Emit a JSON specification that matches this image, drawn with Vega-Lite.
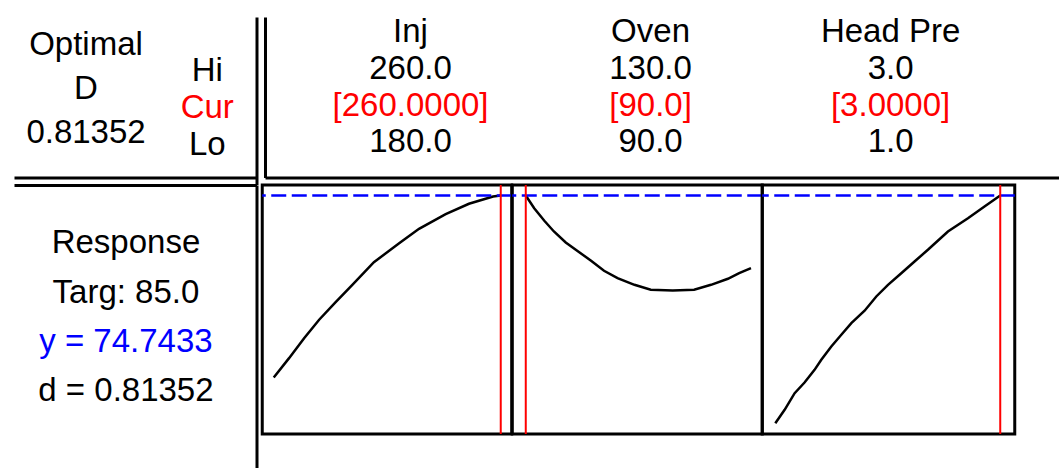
{
  "$schema": "https://vega.github.io/schema/vega-lite/v6.json",
  "padding": {"left": 14, "top": 16, "right": 0, "bottom": 0},
  "autosize": {"type": "pad"},
  "background": "white",
  "config": {
    "view": {"stroke": null},
    "text": {"font": "Liberation Sans", "fontSize": 33, "baseline": "alphabetic", "align": "center"},
    "concat": {"spacing": 0}
  },
  "datasets": {
    "optimum": [
      {"col": "stat", "row": "name", "label": "Optimal\nD\n0.81352"}
    ],
    "levels": [
      {"col": "label", "row": "Hi", "label": "Hi"},
      {"col": "label", "row": "Cur", "label": "Cur"},
      {"col": "label", "row": "Lo", "label": "Lo"}
    ],
    "factors": [
      {"factor": "Inj", "row": "name", "label": "Inj"},
      {"factor": "Inj", "row": "Hi", "label": "260.0"},
      {"factor": "Inj", "row": "Cur", "label": "[260.0000]"},
      {"factor": "Inj", "row": "Lo", "label": "180.0"},
      {"factor": "Oven", "row": "name", "label": "Oven"},
      {"factor": "Oven", "row": "Hi", "label": "130.0"},
      {"factor": "Oven", "row": "Cur", "label": "[90.0]"},
      {"factor": "Oven", "row": "Lo", "label": "90.0"},
      {"factor": "Head Pre", "row": "name", "label": "Head Pre"},
      {"factor": "Head Pre", "row": "Hi", "label": "3.0"},
      {"factor": "Head Pre", "row": "Cur", "label": "[3.0000]"},
      {"factor": "Head Pre", "row": "Lo", "label": "1.0"}
    ],
    "readout": [
      {"col": "resp", "row": "response", "kind": "plain", "label": "Response"},
      {"col": "resp", "row": "target", "kind": "plain", "label": "Targ: 85.0"},
      {"col": "resp", "row": "fit", "kind": "fit", "label": "y = 74.7433"},
      {"col": "resp", "row": "desirability", "kind": "plain", "label": "d = 0.81352"}
    ],
    "profiles": [
      {"factor": "Inj", "setting": 180.0, "response": 50.90},
      {"factor": "Inj", "setting": 185.4, "response": 53.43},
      {"factor": "Inj", "setting": 190.7, "response": 56.05},
      {"factor": "Inj", "setting": 196.0, "response": 58.46},
      {"factor": "Inj", "setting": 201.9, "response": 60.80},
      {"factor": "Inj", "setting": 207.7, "response": 63.04},
      {"factor": "Inj", "setting": 215.3, "response": 66.00},
      {"factor": "Inj", "setting": 224.2, "response": 68.49},
      {"factor": "Inj", "setting": 231.2, "response": 70.38},
      {"factor": "Inj", "setting": 240.6, "response": 72.29},
      {"factor": "Inj", "setting": 248.8, "response": 73.66},
      {"factor": "Inj", "setting": 257.3, "response": 74.61},
      {"factor": "Inj", "setting": 260.0, "response": 74.74},
      {"factor": "Oven", "setting": 90.0, "response": 74.74},
      {"factor": "Oven", "setting": 91.5, "response": 73.08},
      {"factor": "Oven", "setting": 93.3, "response": 71.43},
      {"factor": "Oven", "setting": 95.0, "response": 70.03},
      {"factor": "Oven", "setting": 97.1, "response": 68.59},
      {"factor": "Oven", "setting": 99.5, "response": 67.31},
      {"factor": "Oven", "setting": 101.6, "response": 66.19},
      {"factor": "Oven", "setting": 103.9, "response": 64.88},
      {"factor": "Oven", "setting": 106.3, "response": 63.91},
      {"factor": "Oven", "setting": 109.3, "response": 63.04},
      {"factor": "Oven", "setting": 112.2, "response": 62.39},
      {"factor": "Oven", "setting": 116.1, "response": 62.30},
      {"factor": "Oven", "setting": 119.9, "response": 62.39},
      {"factor": "Oven", "setting": 122.9, "response": 63.04},
      {"factor": "Oven", "setting": 125.9, "response": 63.83},
      {"factor": "Oven", "setting": 127.9, "response": 64.56},
      {"factor": "Oven", "setting": 130.0, "response": 65.22},
      {"factor": "Head Pre", "setting": 1.000, "response": 44.91},
      {"factor": "Head Pre", "setting": 1.083, "response": 46.66},
      {"factor": "Head Pre", "setting": 1.172, "response": 48.84},
      {"factor": "Head Pre", "setting": 1.260, "response": 50.24},
      {"factor": "Head Pre", "setting": 1.349, "response": 51.90},
      {"factor": "Head Pre", "setting": 1.409, "response": 53.22},
      {"factor": "Head Pre", "setting": 1.498, "response": 54.96},
      {"factor": "Head Pre", "setting": 1.587, "response": 56.49},
      {"factor": "Head Pre", "setting": 1.676, "response": 58.01},
      {"factor": "Head Pre", "setting": 1.794, "response": 59.64},
      {"factor": "Head Pre", "setting": 1.898, "response": 61.51},
      {"factor": "Head Pre", "setting": 2.002, "response": 63.04},
      {"factor": "Head Pre", "setting": 2.120, "response": 64.56},
      {"factor": "Head Pre", "setting": 2.238, "response": 66.10},
      {"factor": "Head Pre", "setting": 2.357, "response": 67.63},
      {"factor": "Head Pre", "setting": 2.535, "response": 70.03},
      {"factor": "Head Pre", "setting": 2.713, "response": 71.77},
      {"factor": "Head Pre", "setting": 2.860, "response": 73.30},
      {"factor": "Head Pre", "setting": 3.000, "response": 74.74}
    ],
    "settings": [
      {"factor": "Inj", "setting": 260},
      {"factor": "Oven", "setting": 90},
      {"factor": "Head Pre", "setting": 3}
    ],
    "prediction": [
      {"response": 74.7433}
    ]
  },
  "bounds": "full",
  "spacing": -4,
  "resolve": {"scale": {"x": "independent", "y": "independent", "color": "independent"}},
  "vconcat": [
    {
      "bounds": "flush",
      "spacing": 8,
      "resolve": {"scale": {"x": "independent", "y": "independent", "color": "independent"}},
      "hconcat": [
        {
          "width": 242.5,
          "height": 167.5,
          "layer": [
            {
              "data": {"name": "optimum"},
              "mark": {"type": "text", "lineBreak": "\n", "lineHeight": 43.7, "dx": 11.4, "dy": 9.5, "color": "black"},
              "encoding": {
                "x": {"field": "col", "type": "nominal",
                      "scale": {"type": "point", "domain": ["stat", "label"], "padding": 0.5},
                      "axis": {"orient": "bottom", "offset": -7, "domain": true, "domainColor": "black", "domainWidth": 3, "labels": false, "ticks": false, "grid": false, "title": null}},
                "y": {"field": "row", "type": "nominal",
                      "scale": {"type": "point", "domain": ["name", "Hi", "Cur", "Lo"], "padding": 0.786},
                      "axis": {"orient": "right", "domain": true, "domainColor": "black", "domainWidth": 3, "labels": false, "ticks": false, "grid": false, "title": null}},
                "text": {"field": "label", "type": "nominal"}
              }
            },
            {
              "data": {"name": "levels"},
              "mark": {"type": "text", "dx": 11.4, "dy": -1},
              "encoding": {
                "x": {"field": "col", "type": "nominal"},
                "y": {"field": "row", "type": "nominal"},
                "text": {"field": "label", "type": "nominal"},
                "color": {"field": "row", "type": "nominal",
                          "scale": {"domain": ["Hi", "Cur", "Lo"], "range": ["#000000", "#FF0000", "#000000"]},
                          "legend": null}
              }
            }
          ]
        },
        {
          "width": 794.5,
          "height": 160.5,
          "data": {"name": "factors"},
          "mark": {"type": "text", "dx": -11.7, "dy": 0},
          "encoding": {
            "x": {"field": "factor", "type": "nominal",
                  "scale": {"type": "point", "domain": ["Inj", "Oven", "Head Pre"], "padding": 0.655},
                  "axis": {"orient": "bottom", "domain": true, "domainColor": "black", "domainWidth": 3, "labels": false, "ticks": false, "grid": false, "title": null}},
            "y": {"field": "row", "type": "nominal",
                  "scale": {"type": "point", "domain": ["name", "Hi", "Cur", "Lo"], "padding": 0.69},
                  "axis": {"orient": "left", "domain": true, "domainColor": "black", "domainWidth": 3, "labels": false, "ticks": false, "grid": false, "title": null}},
            "text": {"field": "label", "type": "nominal"},
            "color": {"field": "row", "type": "nominal",
                      "scale": {"domain": ["name", "Hi", "Cur", "Lo"], "range": ["#000000", "#000000", "#FF0000", "#000000"]},
                      "legend": null}
          }
        }
      ]
    },
    {
      "bounds": "full",
      "spacing": 2.25,
      "resolve": {"scale": {"x": "independent", "y": "independent", "color": "independent"}},
      "hconcat": [
        {
          "width": 242.5,
          "height": 284.5,
          "data": {"name": "readout"},
          "mark": {"type": "text", "dx": -9.3},
          "encoding": {
            "x": {"field": "col", "type": "nominal",
                  "scale": {"type": "point", "domain": ["resp"], "padding": 0.5},
                  "axis": {"orient": "top", "domain": true, "domainColor": "black", "domainWidth": 3, "labels": false, "ticks": false, "grid": false, "title": null}},
            "y": {"field": "row", "type": "nominal",
                  "scale": {"type": "point", "domain": ["lead", "response", "target", "fit", "desirability", "tail"], "padding": 0.38},
                  "axis": {"orient": "right", "domain": true, "domainColor": "black", "domainWidth": 3, "labels": false, "ticks": false, "grid": false, "title": null}},
            "text": {"field": "label", "type": "nominal"},
            "color": {"field": "kind", "type": "nominal",
                      "scale": {"domain": ["plain", "fit"], "range": ["#000000", "#0000FF"]},
                      "legend": null}
          }
        },
        {
          "bounds": "flush",
          "spacing": 0,
          "resolve": {"scale": {"x": "independent", "y": "independent", "color": "independent"}},
          "hconcat": [
            {
              "width": 249.5,
              "height": 249,
              "view": {"stroke": "black", "strokeWidth": 3},
              "layer": [
                {
                  "data": {"name": "profiles"},
                  "transform": [{"filter": "datum.factor === 'Inj'"}],
                  "mark": {"type": "line", "color": "black", "strokeWidth": 2.5},
                  "encoding": {
                    "x": {"field": "setting", "type": "quantitative", "scale": {"domain": [175.95, 263.88], "nice": false, "zero": false}, "axis": null},
                    "y": {"field": "response", "type": "quantitative", "scale": {"domain": [43.49, 76.12], "nice": false, "zero": false}, "axis": null}
                  }
                },
                {
                  "data": {"name": "prediction"},
                  "mark": {"type": "rule", "color": "#0000FF", "strokeWidth": 2.5, "strokeDash": [15, 5.5]},
                  "encoding": {"y": {"field": "response", "type": "quantitative"}}
                },
                {
                  "data": {"name": "settings"},
                  "transform": [{"filter": "datum.factor === 'Inj'"}],
                  "mark": {"type": "rule", "color": "#FF0000", "strokeWidth": 2},
                  "encoding": {"x": {"field": "setting", "type": "quantitative"}}
                }
              ]
            },
            {
              "width": 250,
              "height": 249,
              "view": {"stroke": "black", "strokeWidth": 3},
              "layer": [
                {
                  "data": {"name": "profiles"},
                  "transform": [{"filter": "datum.factor === 'Oven'"}],
                  "mark": {"type": "line", "color": "black", "strokeWidth": 2.5},
                  "encoding": {
                    "x": {"field": "setting", "type": "quantitative", "scale": {"domain": [87.6, 132.0], "nice": false, "zero": false}, "axis": null},
                    "y": {"field": "response", "type": "quantitative", "scale": {"domain": [43.49, 76.12], "nice": false, "zero": false}, "axis": null}
                  }
                },
                {
                  "data": {"name": "prediction"},
                  "mark": {"type": "rule", "color": "#0000FF", "strokeWidth": 2.5, "strokeDash": [15, 5.5]},
                  "encoding": {"y": {"field": "response", "type": "quantitative"}}
                },
                {
                  "data": {"name": "settings"},
                  "transform": [{"filter": "datum.factor === 'Oven'"}],
                  "mark": {"type": "rule", "color": "#FF0000", "strokeWidth": 2},
                  "encoding": {"x": {"field": "setting", "type": "quantitative"}}
                }
              ]
            },
            {
              "width": 252.5,
              "height": 249,
              "view": {"stroke": "black", "strokeWidth": 3},
              "layer": [
                {
                  "data": {"name": "profiles"},
                  "transform": [{"filter": "datum.factor === 'Head Pre'"}],
                  "mark": {"type": "line", "color": "black", "strokeWidth": 2.5},
                  "encoding": {
                    "x": {"field": "setting", "type": "quantitative", "scale": {"domain": [0.884, 3.129], "nice": false, "zero": false}, "axis": null},
                    "y": {"field": "response", "type": "quantitative", "scale": {"domain": [43.49, 76.12], "nice": false, "zero": false}, "axis": null}
                  }
                },
                {
                  "data": {"name": "prediction"},
                  "mark": {"type": "rule", "color": "#0000FF", "strokeWidth": 2.5, "strokeDash": [15, 5.5]},
                  "encoding": {"y": {"field": "response", "type": "quantitative"}}
                },
                {
                  "data": {"name": "settings"},
                  "transform": [{"filter": "datum.factor === 'Head Pre'"}],
                  "mark": {"type": "rule", "color": "#FF0000", "strokeWidth": 2},
                  "encoding": {"x": {"field": "setting", "type": "quantitative"}}
                }
              ]
            }
          ]
        }
      ]
    }
  ]
}
